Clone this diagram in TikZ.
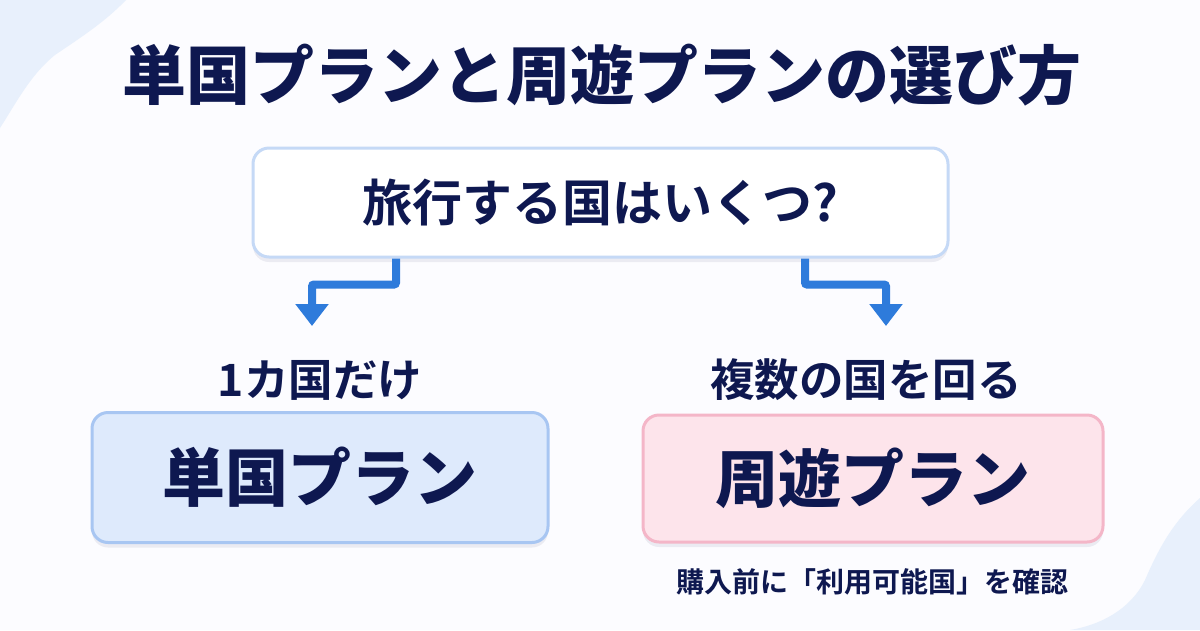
\documentclass[tikz,border=0pt]{standalone}
\usepackage{fontspec}
\setmainfont{Noto Sans CJK JP}[BoldFont={Noto Sans CJK JP Bold}]
\newfontfamily\jpheavy{Noto Sans CJK JP Black}
\usepackage{xcolor}
\usetikzlibrary{arrows.meta,shadows}
\definecolor{navy}{HTML}{0E1850}
\definecolor{flowblue}{HTML}{2E7BDB}
\definecolor{blobblue}{HTML}{E8F0FC}
\definecolor{qline}{HTML}{C5D9F6}
\definecolor{singlefill}{HTML}{DEEAFC}
\definecolor{singleline}{HTML}{A8C6F2}
\definecolor{tourfill}{HTML}{FDE4EB}
\definecolor{tourline}{HTML}{F4B6C8}

\begin{document}
\begin{tikzpicture}[x=1pt,y=-1pt,
  box/.style={rounded corners=16pt,line width=3pt,inner sep=0pt,text=navy,
    drop shadow={shadow xshift=0pt,shadow yshift=-5pt,opacity=0.07,fill=navy}},
  conn/.style={flowblue,line width=8pt,rounded corners=2pt,-{Triangle[width=32pt,length=22pt]}},
  lbl/.style={text=navy,font=\bfseries\fontsize{44.5}{48}\selectfont}]
\fill[white!99!blue] (0,0) rectangle (1200,630);
\useasboundingbox (0,0) rectangle (1200,630);
% soft corner shapes
\fill[blobblue] (0,0) -- (126,0) .. controls (105,22) and (80,38) .. (55,55) .. controls (30,75) and (15,105) .. (0,128) -- cycle;
\fill[blobblue] (1200,498) .. controls (1175,520) and (1160,545) .. (1145,580) .. controls (1130,610) and (1100,625) .. (1070,630) -- (1200,630) -- cycle;

\node[text=navy,font=\jpheavy\fontsize{64}{70}\selectfont] (title) at (602,75) {単国プランと周遊プランの選び方};

\node[box,draw=qline,fill=white,minimum width=695pt,minimum height=109pt,
  font=\bfseries\fontsize{50}{54}\selectfont] (q) at (600.5,202.5) {旅行する国はいくつ?};

\node[lbl] (one) at (320,380) {1カ国だけ};
\node[lbl] (many) at (866,380) {複数の国を回る};

\node[box,draw=singleline,fill=singlefill,minimum width=456pt,minimum height=130pt,
  font=\jpheavy\fontsize{63}{70}\selectfont] (single) at (320,477.5) {単国プラン};
\node[box,draw=tourline,fill=tourfill,minimum width=460pt,minimum height=127pt,
  font=\jpheavy\fontsize{63}{70}\selectfont] (tour) at (873,478.5) {周遊プラン};

\node[text=navy,font=\bfseries\fontsize{28}{32}\selectfont] (note) at (872,582) {購入前に「利用可能国」を確認};

\coordinate (tipL) at (312,326);
\coordinate (tipR) at (886,326);
\draw[conn] ([xshift=-204.5pt]q.south) -- ++(0,26) -| (tipL);
\draw[conn] ([xshift=204.5pt]q.south) -- ++(0,26) -| (tipR);
\end{tikzpicture}
\end{document}
